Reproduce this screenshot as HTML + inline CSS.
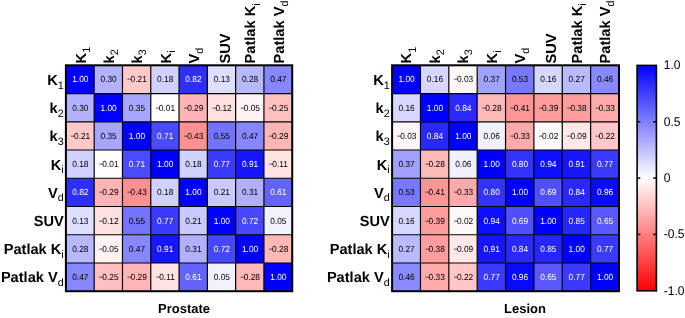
<!DOCTYPE html>
<html><head><meta charset="utf-8"><style>
html,body{margin:0;padding:0;background:#fff;width:685px;height:318px;overflow:hidden}
svg{display:block;font-family:"Liberation Sans",sans-serif;text-rendering:geometricPrecision;will-change:transform}
</style></head><body>
<svg width="685" height="318" viewBox="0 0 685 318">
<defs><linearGradient id="cb" x1="0" y1="0" x2="0" y2="1">
<stop offset="0" stop-color="#0000ff"/><stop offset="0.5" stop-color="#ffffff"/><stop offset="1" stop-color="#ff0000"/>
</linearGradient></defs>
<rect width="685" height="318" fill="#fff"/>
<rect x="65.90" y="65.30" width="28.29" height="28.24" fill="rgb(0,0,255)"/>
<rect x="94.19" y="65.30" width="28.29" height="28.24" fill="rgb(178,178,255)"/>
<rect x="122.48" y="65.30" width="28.29" height="28.24" fill="rgb(255,201,201)"/>
<rect x="150.77" y="65.30" width="28.29" height="28.24" fill="rgb(209,209,255)"/>
<rect x="179.06" y="65.30" width="28.29" height="28.24" fill="rgb(46,46,255)"/>
<rect x="207.35" y="65.30" width="28.29" height="28.24" fill="rgb(222,222,255)"/>
<rect x="235.64" y="65.30" width="28.29" height="28.24" fill="rgb(184,184,255)"/>
<rect x="263.93" y="65.30" width="28.29" height="28.24" fill="rgb(135,135,255)"/>
<rect x="65.90" y="93.54" width="28.29" height="28.24" fill="rgb(178,178,255)"/>
<rect x="94.19" y="93.54" width="28.29" height="28.24" fill="rgb(0,0,255)"/>
<rect x="122.48" y="93.54" width="28.29" height="28.24" fill="rgb(166,166,255)"/>
<rect x="150.77" y="93.54" width="28.29" height="28.24" fill="rgb(255,252,252)"/>
<rect x="179.06" y="93.54" width="28.29" height="28.24" fill="rgb(255,181,181)"/>
<rect x="207.35" y="93.54" width="28.29" height="28.24" fill="rgb(255,224,224)"/>
<rect x="235.64" y="93.54" width="28.29" height="28.24" fill="rgb(255,242,242)"/>
<rect x="263.93" y="93.54" width="28.29" height="28.24" fill="rgb(255,191,191)"/>
<rect x="65.90" y="121.78" width="28.29" height="28.24" fill="rgb(255,201,201)"/>
<rect x="94.19" y="121.78" width="28.29" height="28.24" fill="rgb(166,166,255)"/>
<rect x="122.48" y="121.78" width="28.29" height="28.24" fill="rgb(0,0,255)"/>
<rect x="150.77" y="121.78" width="28.29" height="28.24" fill="rgb(74,74,255)"/>
<rect x="179.06" y="121.78" width="28.29" height="28.24" fill="rgb(255,145,145)"/>
<rect x="207.35" y="121.78" width="28.29" height="28.24" fill="rgb(115,115,255)"/>
<rect x="235.64" y="121.78" width="28.29" height="28.24" fill="rgb(135,135,255)"/>
<rect x="263.93" y="121.78" width="28.29" height="28.24" fill="rgb(255,181,181)"/>
<rect x="65.90" y="150.02" width="28.29" height="28.24" fill="rgb(209,209,255)"/>
<rect x="94.19" y="150.02" width="28.29" height="28.24" fill="rgb(255,252,252)"/>
<rect x="122.48" y="150.02" width="28.29" height="28.24" fill="rgb(74,74,255)"/>
<rect x="150.77" y="150.02" width="28.29" height="28.24" fill="rgb(0,0,255)"/>
<rect x="179.06" y="150.02" width="28.29" height="28.24" fill="rgb(209,209,255)"/>
<rect x="207.35" y="150.02" width="28.29" height="28.24" fill="rgb(59,59,255)"/>
<rect x="235.64" y="150.02" width="28.29" height="28.24" fill="rgb(23,23,255)"/>
<rect x="263.93" y="150.02" width="28.29" height="28.24" fill="rgb(255,227,227)"/>
<rect x="65.90" y="178.26" width="28.29" height="28.24" fill="rgb(46,46,255)"/>
<rect x="94.19" y="178.26" width="28.29" height="28.24" fill="rgb(255,181,181)"/>
<rect x="122.48" y="178.26" width="28.29" height="28.24" fill="rgb(255,145,145)"/>
<rect x="150.77" y="178.26" width="28.29" height="28.24" fill="rgb(209,209,255)"/>
<rect x="179.06" y="178.26" width="28.29" height="28.24" fill="rgb(0,0,255)"/>
<rect x="207.35" y="178.26" width="28.29" height="28.24" fill="rgb(201,201,255)"/>
<rect x="235.64" y="178.26" width="28.29" height="28.24" fill="rgb(176,176,255)"/>
<rect x="263.93" y="178.26" width="28.29" height="28.24" fill="rgb(99,99,255)"/>
<rect x="65.90" y="206.50" width="28.29" height="28.24" fill="rgb(222,222,255)"/>
<rect x="94.19" y="206.50" width="28.29" height="28.24" fill="rgb(255,224,224)"/>
<rect x="122.48" y="206.50" width="28.29" height="28.24" fill="rgb(115,115,255)"/>
<rect x="150.77" y="206.50" width="28.29" height="28.24" fill="rgb(59,59,255)"/>
<rect x="179.06" y="206.50" width="28.29" height="28.24" fill="rgb(201,201,255)"/>
<rect x="207.35" y="206.50" width="28.29" height="28.24" fill="rgb(0,0,255)"/>
<rect x="235.64" y="206.50" width="28.29" height="28.24" fill="rgb(71,71,255)"/>
<rect x="263.93" y="206.50" width="28.29" height="28.24" fill="rgb(242,242,255)"/>
<rect x="65.90" y="234.74" width="28.29" height="28.24" fill="rgb(184,184,255)"/>
<rect x="94.19" y="234.74" width="28.29" height="28.24" fill="rgb(255,242,242)"/>
<rect x="122.48" y="234.74" width="28.29" height="28.24" fill="rgb(135,135,255)"/>
<rect x="150.77" y="234.74" width="28.29" height="28.24" fill="rgb(23,23,255)"/>
<rect x="179.06" y="234.74" width="28.29" height="28.24" fill="rgb(176,176,255)"/>
<rect x="207.35" y="234.74" width="28.29" height="28.24" fill="rgb(71,71,255)"/>
<rect x="235.64" y="234.74" width="28.29" height="28.24" fill="rgb(0,0,255)"/>
<rect x="263.93" y="234.74" width="28.29" height="28.24" fill="rgb(255,184,184)"/>
<rect x="65.90" y="262.98" width="28.29" height="28.24" fill="rgb(135,135,255)"/>
<rect x="94.19" y="262.98" width="28.29" height="28.24" fill="rgb(255,191,191)"/>
<rect x="122.48" y="262.98" width="28.29" height="28.24" fill="rgb(255,181,181)"/>
<rect x="150.77" y="262.98" width="28.29" height="28.24" fill="rgb(255,227,227)"/>
<rect x="179.06" y="262.98" width="28.29" height="28.24" fill="rgb(99,99,255)"/>
<rect x="207.35" y="262.98" width="28.29" height="28.24" fill="rgb(242,242,255)"/>
<rect x="235.64" y="262.98" width="28.29" height="28.24" fill="rgb(255,184,184)"/>
<rect x="263.93" y="262.98" width="28.29" height="28.24" fill="rgb(0,0,255)"/>
<line x1="94.19" y1="65.30" x2="94.19" y2="291.22" stroke="#000" stroke-width="1.2"/>
<line x1="65.90" y1="93.54" x2="292.22" y2="93.54" stroke="#000" stroke-width="1.2"/>
<line x1="122.48" y1="65.30" x2="122.48" y2="291.22" stroke="#000" stroke-width="1.2"/>
<line x1="65.90" y1="121.78" x2="292.22" y2="121.78" stroke="#000" stroke-width="1.2"/>
<line x1="150.77" y1="65.30" x2="150.77" y2="291.22" stroke="#000" stroke-width="1.2"/>
<line x1="65.90" y1="150.02" x2="292.22" y2="150.02" stroke="#000" stroke-width="1.2"/>
<line x1="179.06" y1="65.30" x2="179.06" y2="291.22" stroke="#000" stroke-width="1.2"/>
<line x1="65.90" y1="178.26" x2="292.22" y2="178.26" stroke="#000" stroke-width="1.2"/>
<line x1="207.35" y1="65.30" x2="207.35" y2="291.22" stroke="#000" stroke-width="1.2"/>
<line x1="65.90" y1="206.50" x2="292.22" y2="206.50" stroke="#000" stroke-width="1.2"/>
<line x1="235.64" y1="65.30" x2="235.64" y2="291.22" stroke="#000" stroke-width="1.2"/>
<line x1="65.90" y1="234.74" x2="292.22" y2="234.74" stroke="#000" stroke-width="1.2"/>
<line x1="263.93" y1="65.30" x2="263.93" y2="291.22" stroke="#000" stroke-width="1.2"/>
<line x1="65.90" y1="262.98" x2="292.22" y2="262.98" stroke="#000" stroke-width="1.2"/>
<rect x="65.90" y="65.30" width="226.32" height="225.92" fill="none" stroke="#000" stroke-width="2"/>
<text transform="translate(80.34,82.42) scale(0.95,1)" font-size="8.8" fill="#fff" text-anchor="middle">1.00</text>
<text transform="translate(108.64,82.42) scale(0.95,1)" font-size="8.8" fill="#000" text-anchor="middle">0.30</text>
<text transform="translate(136.93,82.42) scale(0.95,1)" font-size="8.8" fill="#000" text-anchor="middle">−<tspan dx="-1.4">0.21</tspan></text>
<text transform="translate(165.22,82.42) scale(0.95,1)" font-size="8.8" fill="#000" text-anchor="middle">0.18</text>
<text transform="translate(193.50,82.42) scale(0.95,1)" font-size="8.8" fill="#fff" text-anchor="middle">0.82</text>
<text transform="translate(221.80,82.42) scale(0.95,1)" font-size="8.8" fill="#000" text-anchor="middle">0.13</text>
<text transform="translate(250.09,82.42) scale(0.95,1)" font-size="8.8" fill="#000" text-anchor="middle">0.28</text>
<text transform="translate(278.38,82.42) scale(0.95,1)" font-size="8.8" fill="#000" text-anchor="middle">0.47</text>
<text transform="translate(80.34,110.66) scale(0.95,1)" font-size="8.8" fill="#000" text-anchor="middle">0.30</text>
<text transform="translate(108.64,110.66) scale(0.95,1)" font-size="8.8" fill="#fff" text-anchor="middle">1.00</text>
<text transform="translate(136.93,110.66) scale(0.95,1)" font-size="8.8" fill="#000" text-anchor="middle">0.35</text>
<text transform="translate(165.22,110.66) scale(0.95,1)" font-size="8.8" fill="#000" text-anchor="middle">−<tspan dx="-1.4">0.01</tspan></text>
<text transform="translate(193.50,110.66) scale(0.95,1)" font-size="8.8" fill="#000" text-anchor="middle">−<tspan dx="-1.4">0.29</tspan></text>
<text transform="translate(221.80,110.66) scale(0.95,1)" font-size="8.8" fill="#000" text-anchor="middle">−<tspan dx="-1.4">0.12</tspan></text>
<text transform="translate(250.09,110.66) scale(0.95,1)" font-size="8.8" fill="#000" text-anchor="middle">−<tspan dx="-1.4">0.05</tspan></text>
<text transform="translate(278.38,110.66) scale(0.95,1)" font-size="8.8" fill="#000" text-anchor="middle">−<tspan dx="-1.4">0.25</tspan></text>
<text transform="translate(80.34,138.90) scale(0.95,1)" font-size="8.8" fill="#000" text-anchor="middle">−<tspan dx="-1.4">0.21</tspan></text>
<text transform="translate(108.64,138.90) scale(0.95,1)" font-size="8.8" fill="#000" text-anchor="middle">0.35</text>
<text transform="translate(136.93,138.90) scale(0.95,1)" font-size="8.8" fill="#fff" text-anchor="middle">1.00</text>
<text transform="translate(165.22,138.90) scale(0.95,1)" font-size="8.8" fill="#fff" text-anchor="middle">0.71</text>
<text transform="translate(193.50,138.90) scale(0.95,1)" font-size="8.8" fill="#000" text-anchor="middle">−<tspan dx="-1.4">0.43</tspan></text>
<text transform="translate(221.80,138.90) scale(0.95,1)" font-size="8.8" fill="#000" text-anchor="middle">0.55</text>
<text transform="translate(250.09,138.90) scale(0.95,1)" font-size="8.8" fill="#000" text-anchor="middle">0.47</text>
<text transform="translate(278.38,138.90) scale(0.95,1)" font-size="8.8" fill="#000" text-anchor="middle">−<tspan dx="-1.4">0.29</tspan></text>
<text transform="translate(80.34,167.14) scale(0.95,1)" font-size="8.8" fill="#000" text-anchor="middle">0.18</text>
<text transform="translate(108.64,167.14) scale(0.95,1)" font-size="8.8" fill="#000" text-anchor="middle">−<tspan dx="-1.4">0.01</tspan></text>
<text transform="translate(136.93,167.14) scale(0.95,1)" font-size="8.8" fill="#fff" text-anchor="middle">0.71</text>
<text transform="translate(165.22,167.14) scale(0.95,1)" font-size="8.8" fill="#fff" text-anchor="middle">1.00</text>
<text transform="translate(193.50,167.14) scale(0.95,1)" font-size="8.8" fill="#000" text-anchor="middle">0.18</text>
<text transform="translate(221.80,167.14) scale(0.95,1)" font-size="8.8" fill="#fff" text-anchor="middle">0.77</text>
<text transform="translate(250.09,167.14) scale(0.95,1)" font-size="8.8" fill="#fff" text-anchor="middle">0.91</text>
<text transform="translate(278.38,167.14) scale(0.95,1)" font-size="8.8" fill="#000" text-anchor="middle">−<tspan dx="-1.4">0.11</tspan></text>
<text transform="translate(80.34,195.38) scale(0.95,1)" font-size="8.8" fill="#fff" text-anchor="middle">0.82</text>
<text transform="translate(108.64,195.38) scale(0.95,1)" font-size="8.8" fill="#000" text-anchor="middle">−<tspan dx="-1.4">0.29</tspan></text>
<text transform="translate(136.93,195.38) scale(0.95,1)" font-size="8.8" fill="#000" text-anchor="middle">−<tspan dx="-1.4">0.43</tspan></text>
<text transform="translate(165.22,195.38) scale(0.95,1)" font-size="8.8" fill="#000" text-anchor="middle">0.18</text>
<text transform="translate(193.50,195.38) scale(0.95,1)" font-size="8.8" fill="#fff" text-anchor="middle">1.00</text>
<text transform="translate(221.80,195.38) scale(0.95,1)" font-size="8.8" fill="#000" text-anchor="middle">0.21</text>
<text transform="translate(250.09,195.38) scale(0.95,1)" font-size="8.8" fill="#000" text-anchor="middle">0.31</text>
<text transform="translate(278.38,195.38) scale(0.95,1)" font-size="8.8" fill="#fff" text-anchor="middle">0.61</text>
<text transform="translate(80.34,223.62) scale(0.95,1)" font-size="8.8" fill="#000" text-anchor="middle">0.13</text>
<text transform="translate(108.64,223.62) scale(0.95,1)" font-size="8.8" fill="#000" text-anchor="middle">−<tspan dx="-1.4">0.12</tspan></text>
<text transform="translate(136.93,223.62) scale(0.95,1)" font-size="8.8" fill="#000" text-anchor="middle">0.55</text>
<text transform="translate(165.22,223.62) scale(0.95,1)" font-size="8.8" fill="#fff" text-anchor="middle">0.77</text>
<text transform="translate(193.50,223.62) scale(0.95,1)" font-size="8.8" fill="#000" text-anchor="middle">0.21</text>
<text transform="translate(221.80,223.62) scale(0.95,1)" font-size="8.8" fill="#fff" text-anchor="middle">1.00</text>
<text transform="translate(250.09,223.62) scale(0.95,1)" font-size="8.8" fill="#fff" text-anchor="middle">0.72</text>
<text transform="translate(278.38,223.62) scale(0.95,1)" font-size="8.8" fill="#000" text-anchor="middle">0.05</text>
<text transform="translate(80.34,251.86) scale(0.95,1)" font-size="8.8" fill="#000" text-anchor="middle">0.28</text>
<text transform="translate(108.64,251.86) scale(0.95,1)" font-size="8.8" fill="#000" text-anchor="middle">−<tspan dx="-1.4">0.05</tspan></text>
<text transform="translate(136.93,251.86) scale(0.95,1)" font-size="8.8" fill="#000" text-anchor="middle">0.47</text>
<text transform="translate(165.22,251.86) scale(0.95,1)" font-size="8.8" fill="#fff" text-anchor="middle">0.91</text>
<text transform="translate(193.50,251.86) scale(0.95,1)" font-size="8.8" fill="#000" text-anchor="middle">0.31</text>
<text transform="translate(221.80,251.86) scale(0.95,1)" font-size="8.8" fill="#fff" text-anchor="middle">0.72</text>
<text transform="translate(250.09,251.86) scale(0.95,1)" font-size="8.8" fill="#fff" text-anchor="middle">1.00</text>
<text transform="translate(278.38,251.86) scale(0.95,1)" font-size="8.8" fill="#000" text-anchor="middle">−<tspan dx="-1.4">0.28</tspan></text>
<text transform="translate(80.34,280.10) scale(0.95,1)" font-size="8.8" fill="#000" text-anchor="middle">0.47</text>
<text transform="translate(108.64,280.10) scale(0.95,1)" font-size="8.8" fill="#000" text-anchor="middle">−<tspan dx="-1.4">0.25</tspan></text>
<text transform="translate(136.93,280.10) scale(0.95,1)" font-size="8.8" fill="#000" text-anchor="middle">−<tspan dx="-1.4">0.29</tspan></text>
<text transform="translate(165.22,280.10) scale(0.95,1)" font-size="8.8" fill="#000" text-anchor="middle">−<tspan dx="-1.4">0.11</tspan></text>
<text transform="translate(193.50,280.10) scale(0.95,1)" font-size="8.8" fill="#fff" text-anchor="middle">0.61</text>
<text transform="translate(221.80,280.10) scale(0.95,1)" font-size="8.8" fill="#000" text-anchor="middle">0.05</text>
<text transform="translate(250.09,280.10) scale(0.95,1)" font-size="8.8" fill="#000" text-anchor="middle">−<tspan dx="-1.4">0.28</tspan></text>
<text transform="translate(278.38,280.10) scale(0.95,1)" font-size="8.8" fill="#fff" text-anchor="middle">1.00</text>
<text x="63.70" y="85.10" font-size="14.6" font-weight="bold" text-anchor="end"><tspan>K</tspan><tspan font-size="10.8" font-weight="normal" dy="3.6">1</tspan></text>
<text x="63.70" y="113.24" font-size="14.6" font-weight="bold" text-anchor="end"><tspan>k</tspan><tspan font-size="10.8" font-weight="normal" dy="3.6">2</tspan></text>
<text x="63.70" y="141.38" font-size="14.6" font-weight="bold" text-anchor="end"><tspan>k</tspan><tspan font-size="10.8" font-weight="normal" dy="3.6">3</tspan></text>
<text x="63.70" y="169.52" font-size="14.6" font-weight="bold" text-anchor="end"><tspan>K</tspan><tspan font-size="10.8" font-weight="normal" dy="3.6">i</tspan></text>
<text x="63.70" y="197.66" font-size="14.6" font-weight="bold" text-anchor="end"><tspan>V</tspan><tspan font-size="10.8" font-weight="normal" dy="3.6">d</tspan></text>
<text x="63.70" y="225.80" font-size="14.6" font-weight="bold" text-anchor="end"><tspan>SUV</tspan></text>
<text x="63.70" y="253.94" font-size="14.6" font-weight="bold" text-anchor="end"><tspan>Patlak K</tspan><tspan font-size="10.8" font-weight="normal" dy="3.6">i</tspan></text>
<text x="63.70" y="282.08" font-size="14.6" font-weight="bold" text-anchor="end"><tspan>Patlak V</tspan><tspan font-size="10.8" font-weight="normal" dy="3.6">d</tspan></text>
<text transform="translate(85.70,63.40) rotate(-90)" font-size="14.6" font-weight="bold"><tspan>K</tspan><tspan font-size="10.8" font-weight="normal" dy="4.2">1</tspan></text>
<text transform="translate(113.98,63.40) rotate(-90)" font-size="14.6" font-weight="bold"><tspan>k</tspan><tspan font-size="10.8" font-weight="normal" dy="4.2">2</tspan></text>
<text transform="translate(142.26,63.40) rotate(-90)" font-size="14.6" font-weight="bold"><tspan>k</tspan><tspan font-size="10.8" font-weight="normal" dy="4.2">3</tspan></text>
<text transform="translate(170.54,63.40) rotate(-90)" font-size="14.6" font-weight="bold"><tspan>K</tspan><tspan font-size="10.8" font-weight="normal" dy="4.2">i</tspan></text>
<text transform="translate(198.82,63.40) rotate(-90)" font-size="14.6" font-weight="bold"><tspan>V</tspan><tspan font-size="10.8" font-weight="normal" dy="4.2">d</tspan></text>
<text transform="translate(229.70,63.40) rotate(-90)" font-size="14.6" font-weight="bold"><tspan>SUV</tspan></text>
<text transform="translate(255.38,63.40) rotate(-90)" font-size="14.6" font-weight="bold"><tspan>Patlak K</tspan><tspan font-size="10.8" font-weight="normal" dy="4.2">i</tspan></text>
<text transform="translate(283.66,63.40) rotate(-90)" font-size="14.6" font-weight="bold"><tspan>Patlak V</tspan><tspan font-size="10.8" font-weight="normal" dy="4.2">d</tspan></text>
<text x="184.00" y="312.60" font-size="13" font-weight="bold" text-anchor="middle">Prostate</text>
<rect x="392.10" y="65.30" width="28.36" height="28.24" fill="rgb(0,0,255)"/>
<rect x="420.46" y="65.30" width="28.36" height="28.24" fill="rgb(214,214,255)"/>
<rect x="448.82" y="65.30" width="28.36" height="28.24" fill="rgb(255,247,247)"/>
<rect x="477.18" y="65.30" width="28.36" height="28.24" fill="rgb(161,161,255)"/>
<rect x="505.54" y="65.30" width="28.36" height="28.24" fill="rgb(120,120,255)"/>
<rect x="533.90" y="65.30" width="28.36" height="28.24" fill="rgb(214,214,255)"/>
<rect x="562.26" y="65.30" width="28.36" height="28.24" fill="rgb(186,186,255)"/>
<rect x="590.62" y="65.30" width="28.36" height="28.24" fill="rgb(138,138,255)"/>
<rect x="392.10" y="93.54" width="28.36" height="28.24" fill="rgb(214,214,255)"/>
<rect x="420.46" y="93.54" width="28.36" height="28.24" fill="rgb(0,0,255)"/>
<rect x="448.82" y="93.54" width="28.36" height="28.24" fill="rgb(41,41,255)"/>
<rect x="477.18" y="93.54" width="28.36" height="28.24" fill="rgb(255,184,184)"/>
<rect x="505.54" y="93.54" width="28.36" height="28.24" fill="rgb(255,150,150)"/>
<rect x="533.90" y="93.54" width="28.36" height="28.24" fill="rgb(255,156,156)"/>
<rect x="562.26" y="93.54" width="28.36" height="28.24" fill="rgb(255,158,158)"/>
<rect x="590.62" y="93.54" width="28.36" height="28.24" fill="rgb(255,171,171)"/>
<rect x="392.10" y="121.78" width="28.36" height="28.24" fill="rgb(255,247,247)"/>
<rect x="420.46" y="121.78" width="28.36" height="28.24" fill="rgb(41,41,255)"/>
<rect x="448.82" y="121.78" width="28.36" height="28.24" fill="rgb(0,0,255)"/>
<rect x="477.18" y="121.78" width="28.36" height="28.24" fill="rgb(240,240,255)"/>
<rect x="505.54" y="121.78" width="28.36" height="28.24" fill="rgb(255,171,171)"/>
<rect x="533.90" y="121.78" width="28.36" height="28.24" fill="rgb(255,250,250)"/>
<rect x="562.26" y="121.78" width="28.36" height="28.24" fill="rgb(255,232,232)"/>
<rect x="590.62" y="121.78" width="28.36" height="28.24" fill="rgb(255,199,199)"/>
<rect x="392.10" y="150.02" width="28.36" height="28.24" fill="rgb(161,161,255)"/>
<rect x="420.46" y="150.02" width="28.36" height="28.24" fill="rgb(255,184,184)"/>
<rect x="448.82" y="150.02" width="28.36" height="28.24" fill="rgb(240,240,255)"/>
<rect x="477.18" y="150.02" width="28.36" height="28.24" fill="rgb(0,0,255)"/>
<rect x="505.54" y="150.02" width="28.36" height="28.24" fill="rgb(51,51,255)"/>
<rect x="533.90" y="150.02" width="28.36" height="28.24" fill="rgb(15,15,255)"/>
<rect x="562.26" y="150.02" width="28.36" height="28.24" fill="rgb(23,23,255)"/>
<rect x="590.62" y="150.02" width="28.36" height="28.24" fill="rgb(59,59,255)"/>
<rect x="392.10" y="178.26" width="28.36" height="28.24" fill="rgb(120,120,255)"/>
<rect x="420.46" y="178.26" width="28.36" height="28.24" fill="rgb(255,150,150)"/>
<rect x="448.82" y="178.26" width="28.36" height="28.24" fill="rgb(255,171,171)"/>
<rect x="477.18" y="178.26" width="28.36" height="28.24" fill="rgb(51,51,255)"/>
<rect x="505.54" y="178.26" width="28.36" height="28.24" fill="rgb(0,0,255)"/>
<rect x="533.90" y="178.26" width="28.36" height="28.24" fill="rgb(79,79,255)"/>
<rect x="562.26" y="178.26" width="28.36" height="28.24" fill="rgb(41,41,255)"/>
<rect x="590.62" y="178.26" width="28.36" height="28.24" fill="rgb(10,10,255)"/>
<rect x="392.10" y="206.50" width="28.36" height="28.24" fill="rgb(214,214,255)"/>
<rect x="420.46" y="206.50" width="28.36" height="28.24" fill="rgb(255,156,156)"/>
<rect x="448.82" y="206.50" width="28.36" height="28.24" fill="rgb(255,250,250)"/>
<rect x="477.18" y="206.50" width="28.36" height="28.24" fill="rgb(15,15,255)"/>
<rect x="505.54" y="206.50" width="28.36" height="28.24" fill="rgb(79,79,255)"/>
<rect x="533.90" y="206.50" width="28.36" height="28.24" fill="rgb(0,0,255)"/>
<rect x="562.26" y="206.50" width="28.36" height="28.24" fill="rgb(38,38,255)"/>
<rect x="590.62" y="206.50" width="28.36" height="28.24" fill="rgb(89,89,255)"/>
<rect x="392.10" y="234.74" width="28.36" height="28.24" fill="rgb(186,186,255)"/>
<rect x="420.46" y="234.74" width="28.36" height="28.24" fill="rgb(255,158,158)"/>
<rect x="448.82" y="234.74" width="28.36" height="28.24" fill="rgb(255,232,232)"/>
<rect x="477.18" y="234.74" width="28.36" height="28.24" fill="rgb(23,23,255)"/>
<rect x="505.54" y="234.74" width="28.36" height="28.24" fill="rgb(41,41,255)"/>
<rect x="533.90" y="234.74" width="28.36" height="28.24" fill="rgb(38,38,255)"/>
<rect x="562.26" y="234.74" width="28.36" height="28.24" fill="rgb(0,0,255)"/>
<rect x="590.62" y="234.74" width="28.36" height="28.24" fill="rgb(59,59,255)"/>
<rect x="392.10" y="262.98" width="28.36" height="28.24" fill="rgb(138,138,255)"/>
<rect x="420.46" y="262.98" width="28.36" height="28.24" fill="rgb(255,171,171)"/>
<rect x="448.82" y="262.98" width="28.36" height="28.24" fill="rgb(255,199,199)"/>
<rect x="477.18" y="262.98" width="28.36" height="28.24" fill="rgb(59,59,255)"/>
<rect x="505.54" y="262.98" width="28.36" height="28.24" fill="rgb(10,10,255)"/>
<rect x="533.90" y="262.98" width="28.36" height="28.24" fill="rgb(89,89,255)"/>
<rect x="562.26" y="262.98" width="28.36" height="28.24" fill="rgb(59,59,255)"/>
<rect x="590.62" y="262.98" width="28.36" height="28.24" fill="rgb(0,0,255)"/>
<line x1="420.46" y1="65.30" x2="420.46" y2="291.22" stroke="#000" stroke-width="1.2"/>
<line x1="392.10" y1="93.54" x2="618.98" y2="93.54" stroke="#000" stroke-width="1.2"/>
<line x1="448.82" y1="65.30" x2="448.82" y2="291.22" stroke="#000" stroke-width="1.2"/>
<line x1="392.10" y1="121.78" x2="618.98" y2="121.78" stroke="#000" stroke-width="1.2"/>
<line x1="477.18" y1="65.30" x2="477.18" y2="291.22" stroke="#000" stroke-width="1.2"/>
<line x1="392.10" y1="150.02" x2="618.98" y2="150.02" stroke="#000" stroke-width="1.2"/>
<line x1="505.54" y1="65.30" x2="505.54" y2="291.22" stroke="#000" stroke-width="1.2"/>
<line x1="392.10" y1="178.26" x2="618.98" y2="178.26" stroke="#000" stroke-width="1.2"/>
<line x1="533.90" y1="65.30" x2="533.90" y2="291.22" stroke="#000" stroke-width="1.2"/>
<line x1="392.10" y1="206.50" x2="618.98" y2="206.50" stroke="#000" stroke-width="1.2"/>
<line x1="562.26" y1="65.30" x2="562.26" y2="291.22" stroke="#000" stroke-width="1.2"/>
<line x1="392.10" y1="234.74" x2="618.98" y2="234.74" stroke="#000" stroke-width="1.2"/>
<line x1="590.62" y1="65.30" x2="590.62" y2="291.22" stroke="#000" stroke-width="1.2"/>
<line x1="392.10" y1="262.98" x2="618.98" y2="262.98" stroke="#000" stroke-width="1.2"/>
<rect x="392.10" y="65.30" width="226.88" height="225.92" fill="none" stroke="#000" stroke-width="2"/>
<text transform="translate(406.58,82.42) scale(0.95,1)" font-size="8.8" fill="#fff" text-anchor="middle">1.00</text>
<text transform="translate(434.94,82.42) scale(0.95,1)" font-size="8.8" fill="#000" text-anchor="middle">0.16</text>
<text transform="translate(463.30,82.42) scale(0.95,1)" font-size="8.8" fill="#000" text-anchor="middle">−<tspan dx="-1.4">0.03</tspan></text>
<text transform="translate(491.66,82.42) scale(0.95,1)" font-size="8.8" fill="#000" text-anchor="middle">0.37</text>
<text transform="translate(520.02,82.42) scale(0.95,1)" font-size="8.8" fill="#000" text-anchor="middle">0.53</text>
<text transform="translate(548.38,82.42) scale(0.95,1)" font-size="8.8" fill="#000" text-anchor="middle">0.16</text>
<text transform="translate(576.74,82.42) scale(0.95,1)" font-size="8.8" fill="#000" text-anchor="middle">0.27</text>
<text transform="translate(605.10,82.42) scale(0.95,1)" font-size="8.8" fill="#000" text-anchor="middle">0.46</text>
<text transform="translate(406.58,110.66) scale(0.95,1)" font-size="8.8" fill="#000" text-anchor="middle">0.16</text>
<text transform="translate(434.94,110.66) scale(0.95,1)" font-size="8.8" fill="#fff" text-anchor="middle">1.00</text>
<text transform="translate(463.30,110.66) scale(0.95,1)" font-size="8.8" fill="#fff" text-anchor="middle">0.84</text>
<text transform="translate(491.66,110.66) scale(0.95,1)" font-size="8.8" fill="#000" text-anchor="middle">−<tspan dx="-1.4">0.28</tspan></text>
<text transform="translate(520.02,110.66) scale(0.95,1)" font-size="8.8" fill="#000" text-anchor="middle">−<tspan dx="-1.4">0.41</tspan></text>
<text transform="translate(548.38,110.66) scale(0.95,1)" font-size="8.8" fill="#000" text-anchor="middle">−<tspan dx="-1.4">0.39</tspan></text>
<text transform="translate(576.74,110.66) scale(0.95,1)" font-size="8.8" fill="#000" text-anchor="middle">−<tspan dx="-1.4">0.38</tspan></text>
<text transform="translate(605.10,110.66) scale(0.95,1)" font-size="8.8" fill="#000" text-anchor="middle">−<tspan dx="-1.4">0.33</tspan></text>
<text transform="translate(406.58,138.90) scale(0.95,1)" font-size="8.8" fill="#000" text-anchor="middle">−<tspan dx="-1.4">0.03</tspan></text>
<text transform="translate(434.94,138.90) scale(0.95,1)" font-size="8.8" fill="#fff" text-anchor="middle">0.84</text>
<text transform="translate(463.30,138.90) scale(0.95,1)" font-size="8.8" fill="#fff" text-anchor="middle">1.00</text>
<text transform="translate(491.66,138.90) scale(0.95,1)" font-size="8.8" fill="#000" text-anchor="middle">0.06</text>
<text transform="translate(520.02,138.90) scale(0.95,1)" font-size="8.8" fill="#000" text-anchor="middle">−<tspan dx="-1.4">0.33</tspan></text>
<text transform="translate(548.38,138.90) scale(0.95,1)" font-size="8.8" fill="#000" text-anchor="middle">−<tspan dx="-1.4">0.02</tspan></text>
<text transform="translate(576.74,138.90) scale(0.95,1)" font-size="8.8" fill="#000" text-anchor="middle">−<tspan dx="-1.4">0.09</tspan></text>
<text transform="translate(605.10,138.90) scale(0.95,1)" font-size="8.8" fill="#000" text-anchor="middle">−<tspan dx="-1.4">0.22</tspan></text>
<text transform="translate(406.58,167.14) scale(0.95,1)" font-size="8.8" fill="#000" text-anchor="middle">0.37</text>
<text transform="translate(434.94,167.14) scale(0.95,1)" font-size="8.8" fill="#000" text-anchor="middle">−<tspan dx="-1.4">0.28</tspan></text>
<text transform="translate(463.30,167.14) scale(0.95,1)" font-size="8.8" fill="#000" text-anchor="middle">0.06</text>
<text transform="translate(491.66,167.14) scale(0.95,1)" font-size="8.8" fill="#fff" text-anchor="middle">1.00</text>
<text transform="translate(520.02,167.14) scale(0.95,1)" font-size="8.8" fill="#fff" text-anchor="middle">0.80</text>
<text transform="translate(548.38,167.14) scale(0.95,1)" font-size="8.8" fill="#fff" text-anchor="middle">0.94</text>
<text transform="translate(576.74,167.14) scale(0.95,1)" font-size="8.8" fill="#fff" text-anchor="middle">0.91</text>
<text transform="translate(605.10,167.14) scale(0.95,1)" font-size="8.8" fill="#fff" text-anchor="middle">0.77</text>
<text transform="translate(406.58,195.38) scale(0.95,1)" font-size="8.8" fill="#000" text-anchor="middle">0.53</text>
<text transform="translate(434.94,195.38) scale(0.95,1)" font-size="8.8" fill="#000" text-anchor="middle">−<tspan dx="-1.4">0.41</tspan></text>
<text transform="translate(463.30,195.38) scale(0.95,1)" font-size="8.8" fill="#000" text-anchor="middle">−<tspan dx="-1.4">0.33</tspan></text>
<text transform="translate(491.66,195.38) scale(0.95,1)" font-size="8.8" fill="#fff" text-anchor="middle">0.80</text>
<text transform="translate(520.02,195.38) scale(0.95,1)" font-size="8.8" fill="#fff" text-anchor="middle">1.00</text>
<text transform="translate(548.38,195.38) scale(0.95,1)" font-size="8.8" fill="#fff" text-anchor="middle">0.69</text>
<text transform="translate(576.74,195.38) scale(0.95,1)" font-size="8.8" fill="#fff" text-anchor="middle">0.84</text>
<text transform="translate(605.10,195.38) scale(0.95,1)" font-size="8.8" fill="#fff" text-anchor="middle">0.96</text>
<text transform="translate(406.58,223.62) scale(0.95,1)" font-size="8.8" fill="#000" text-anchor="middle">0.16</text>
<text transform="translate(434.94,223.62) scale(0.95,1)" font-size="8.8" fill="#000" text-anchor="middle">−<tspan dx="-1.4">0.39</tspan></text>
<text transform="translate(463.30,223.62) scale(0.95,1)" font-size="8.8" fill="#000" text-anchor="middle">−<tspan dx="-1.4">0.02</tspan></text>
<text transform="translate(491.66,223.62) scale(0.95,1)" font-size="8.8" fill="#fff" text-anchor="middle">0.94</text>
<text transform="translate(520.02,223.62) scale(0.95,1)" font-size="8.8" fill="#fff" text-anchor="middle">0.69</text>
<text transform="translate(548.38,223.62) scale(0.95,1)" font-size="8.8" fill="#fff" text-anchor="middle">1.00</text>
<text transform="translate(576.74,223.62) scale(0.95,1)" font-size="8.8" fill="#fff" text-anchor="middle">0.85</text>
<text transform="translate(605.10,223.62) scale(0.95,1)" font-size="8.8" fill="#fff" text-anchor="middle">0.65</text>
<text transform="translate(406.58,251.86) scale(0.95,1)" font-size="8.8" fill="#000" text-anchor="middle">0.27</text>
<text transform="translate(434.94,251.86) scale(0.95,1)" font-size="8.8" fill="#000" text-anchor="middle">−<tspan dx="-1.4">0.38</tspan></text>
<text transform="translate(463.30,251.86) scale(0.95,1)" font-size="8.8" fill="#000" text-anchor="middle">−<tspan dx="-1.4">0.09</tspan></text>
<text transform="translate(491.66,251.86) scale(0.95,1)" font-size="8.8" fill="#fff" text-anchor="middle">0.91</text>
<text transform="translate(520.02,251.86) scale(0.95,1)" font-size="8.8" fill="#fff" text-anchor="middle">0.84</text>
<text transform="translate(548.38,251.86) scale(0.95,1)" font-size="8.8" fill="#fff" text-anchor="middle">0.85</text>
<text transform="translate(576.74,251.86) scale(0.95,1)" font-size="8.8" fill="#fff" text-anchor="middle">1.00</text>
<text transform="translate(605.10,251.86) scale(0.95,1)" font-size="8.8" fill="#fff" text-anchor="middle">0.77</text>
<text transform="translate(406.58,280.10) scale(0.95,1)" font-size="8.8" fill="#000" text-anchor="middle">0.46</text>
<text transform="translate(434.94,280.10) scale(0.95,1)" font-size="8.8" fill="#000" text-anchor="middle">−<tspan dx="-1.4">0.33</tspan></text>
<text transform="translate(463.30,280.10) scale(0.95,1)" font-size="8.8" fill="#000" text-anchor="middle">−<tspan dx="-1.4">0.22</tspan></text>
<text transform="translate(491.66,280.10) scale(0.95,1)" font-size="8.8" fill="#fff" text-anchor="middle">0.77</text>
<text transform="translate(520.02,280.10) scale(0.95,1)" font-size="8.8" fill="#fff" text-anchor="middle">0.96</text>
<text transform="translate(548.38,280.10) scale(0.95,1)" font-size="8.8" fill="#fff" text-anchor="middle">0.65</text>
<text transform="translate(576.74,280.10) scale(0.95,1)" font-size="8.8" fill="#fff" text-anchor="middle">0.77</text>
<text transform="translate(605.10,280.10) scale(0.95,1)" font-size="8.8" fill="#fff" text-anchor="middle">1.00</text>
<text x="389.70" y="85.10" font-size="14.6" font-weight="bold" text-anchor="end"><tspan>K</tspan><tspan font-size="10.8" font-weight="normal" dy="3.6">1</tspan></text>
<text x="389.70" y="113.24" font-size="14.6" font-weight="bold" text-anchor="end"><tspan>k</tspan><tspan font-size="10.8" font-weight="normal" dy="3.6">2</tspan></text>
<text x="389.70" y="141.38" font-size="14.6" font-weight="bold" text-anchor="end"><tspan>k</tspan><tspan font-size="10.8" font-weight="normal" dy="3.6">3</tspan></text>
<text x="389.70" y="169.52" font-size="14.6" font-weight="bold" text-anchor="end"><tspan>K</tspan><tspan font-size="10.8" font-weight="normal" dy="3.6">i</tspan></text>
<text x="389.70" y="197.66" font-size="14.6" font-weight="bold" text-anchor="end"><tspan>V</tspan><tspan font-size="10.8" font-weight="normal" dy="3.6">d</tspan></text>
<text x="389.70" y="225.80" font-size="14.6" font-weight="bold" text-anchor="end"><tspan>SUV</tspan></text>
<text x="389.70" y="253.94" font-size="14.6" font-weight="bold" text-anchor="end"><tspan>Patlak K</tspan><tspan font-size="10.8" font-weight="normal" dy="3.6">i</tspan></text>
<text x="389.70" y="282.08" font-size="14.6" font-weight="bold" text-anchor="end"><tspan>Patlak V</tspan><tspan font-size="10.8" font-weight="normal" dy="3.6">d</tspan></text>
<text transform="translate(411.30,63.40) rotate(-90)" font-size="14.6" font-weight="bold"><tspan>K</tspan><tspan font-size="10.8" font-weight="normal" dy="4.2">1</tspan></text>
<text transform="translate(439.70,63.40) rotate(-90)" font-size="14.6" font-weight="bold"><tspan>k</tspan><tspan font-size="10.8" font-weight="normal" dy="4.2">2</tspan></text>
<text transform="translate(468.10,63.40) rotate(-90)" font-size="14.6" font-weight="bold"><tspan>k</tspan><tspan font-size="10.8" font-weight="normal" dy="4.2">3</tspan></text>
<text transform="translate(496.50,63.40) rotate(-90)" font-size="14.6" font-weight="bold"><tspan>K</tspan><tspan font-size="10.8" font-weight="normal" dy="4.2">i</tspan></text>
<text transform="translate(524.90,63.40) rotate(-90)" font-size="14.6" font-weight="bold"><tspan>V</tspan><tspan font-size="10.8" font-weight="normal" dy="4.2">d</tspan></text>
<text transform="translate(555.90,63.40) rotate(-90)" font-size="14.6" font-weight="bold"><tspan>SUV</tspan></text>
<text transform="translate(581.70,63.40) rotate(-90)" font-size="14.6" font-weight="bold"><tspan>Patlak K</tspan><tspan font-size="10.8" font-weight="normal" dy="4.2">i</tspan></text>
<text transform="translate(610.10,63.40) rotate(-90)" font-size="14.6" font-weight="bold"><tspan>Patlak V</tspan><tspan font-size="10.8" font-weight="normal" dy="4.2">d</tspan></text>
<text x="525.00" y="312.60" font-size="13" font-weight="bold" text-anchor="middle">Lesion</text>
<rect x="637.1" y="65.4" width="19.30" height="225.40" fill="url(#cb)" stroke="#000" stroke-width="1.6"/>
<text transform="translate(663.7,69.40) scale(0.955,1)" font-size="12.6">1.0</text>
<line x1="637.1" y1="121.75" x2="640.3000000000001" y2="121.75" stroke="#000" stroke-width="1.5"/>
<line x1="653.1999999999999" y1="121.75" x2="656.4" y2="121.75" stroke="#000" stroke-width="1.5"/>
<text transform="translate(663.7,125.75) scale(0.955,1)" font-size="12.6">0.5</text>
<line x1="637.1" y1="178.10" x2="640.3000000000001" y2="178.10" stroke="#000" stroke-width="1.5"/>
<line x1="653.1999999999999" y1="178.10" x2="656.4" y2="178.10" stroke="#000" stroke-width="1.5"/>
<text transform="translate(663.7,182.10) scale(0.955,1)" font-size="12.6">0</text>
<line x1="637.1" y1="234.45" x2="640.3000000000001" y2="234.45" stroke="#000" stroke-width="1.5"/>
<line x1="653.1999999999999" y1="234.45" x2="656.4" y2="234.45" stroke="#000" stroke-width="1.5"/>
<text transform="translate(663.7,238.45) scale(0.955,1)" font-size="12.6">-0.5</text>
<text transform="translate(663.7,294.80) scale(0.955,1)" font-size="12.6">-1.0</text>
</svg>
</body></html>
